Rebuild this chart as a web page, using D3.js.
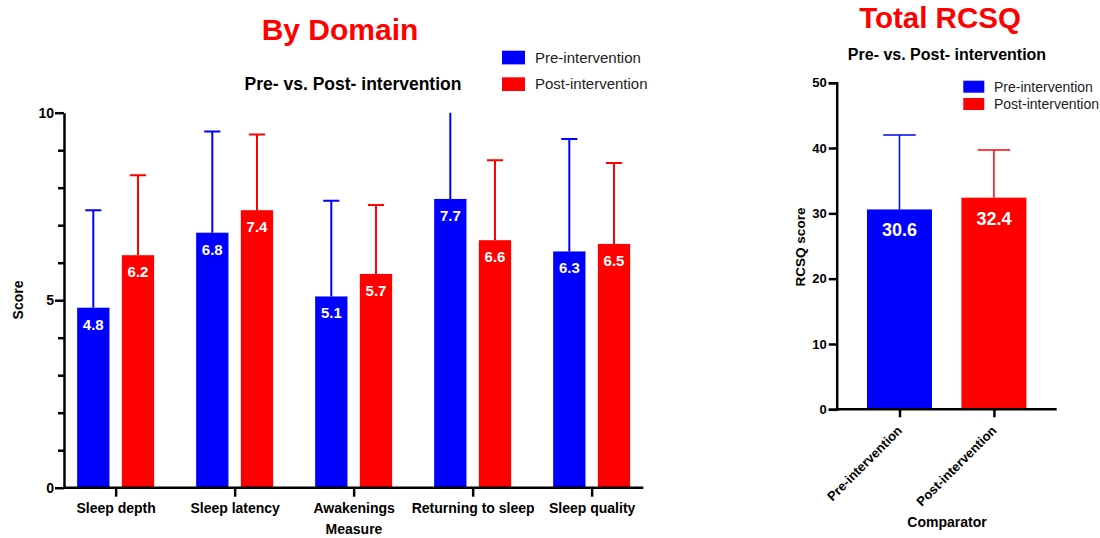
<!DOCTYPE html>
<html><head><meta charset="utf-8">
<script src="https://cdn.jsdelivr.net/npm/d3@7"></script>
<style>
body{margin:0;background:#fff}
text{font-family:"Liberation Sans",Arial,Helvetica,sans-serif}
</style></head><body><svg id="chart" width="1100" height="538"></svg>
<script>
// Sleep questionnaire scores, pre vs. post intervention (mean + SD)
const measures = ["Sleep depth", "Sleep latency", "Awakenings", "Returning to sleep", "Sleep quality"];
const groups = ["Pre-intervention", "Post-intervention"];
const preMeans = [4.8, 6.8, 5.1, 7.7, 6.3];
const preSD = [2.6, 2.7, 2.55, 2.8, 3.0];
const postMeans = [6.2, 7.4, 5.7, 6.6, 6.5];
const postSD = [2.13, 2.02, 1.84, 2.13, 2.16];
const totalMeans = [30.6, 32.4];
const totalSD = [11.4, 7.3];
const domainTickLabels = [0, 5, 10];
const totalTickLabels = [0, 10, 20, 30, 40, 50];
const colors = ["#0000ff", "#ff0000"];

const svg = d3.select("#chart");
const fmt = d3.format(".1f");
const color = d3.scaleOrdinal(groups, colors);

function styleAxis(g, w) {
  g.select(".domain").attr("stroke", "#000").attr("stroke-width", w);
  g.selectAll(".tick line").attr("stroke", "#000").attr("stroke-width", w);
  g.selectAll(".tick text").attr("fill", "#000").attr("font-weight", "bold")
    .attr("font-family", "'Liberation Sans', Arial, sans-serif");
}

// ---------- Left panel: by domain ----------
const L = {x0: 64, x1: 643.3, yTop: 112.7, yBot: 487.7};
const yL = d3.scaleLinear([0, 10], [L.yBot, L.yTop]);
const xL = d3.scalePoint(measures, [L.x0, L.x1]).padding(0.434);
const xsL = d3.scaleBand(groups, [-38.5, 38.5]).paddingInner(0.277);

svg.append("defs").append("clipPath").attr("id", "clipL")
  .append("rect").attr("x", L.x0).attr("y", L.yTop).attr("width", L.x1 - L.x0).attr("height", L.yBot - L.yTop);

const domainRows = [];
measures.forEach((m, i) => {
  domainRows.push({m, g: groups[0], v: preMeans[i], sd: preSD[i]});
  domainRows.push({m, g: groups[1], v: postMeans[i], sd: postSD[i]});
});

const gL = svg.append("g");
const bw = xsL.bandwidth();
gL.selectAll("rect.bar").data(domainRows).join("rect").attr("class", "bar")
  .attr("x", d => xL(d.m) + xsL(d.g))
  .attr("y", d => yL(d.v))
  .attr("width", bw)
  .attr("height", d => yL(0) - yL(d.v))
  .attr("fill", d => color(d.g));

// SD whiskers, clipped at the top of the axis
const errL = gL.append("g").attr("clip-path", "url(#clipL)");
domainRows.forEach(d => {
  const cx = xL(d.m) + xsL(d.g) + bw / 2;
  const top = yL(d.v + d.sd);
  errL.append("line").attr("x1", cx).attr("x2", cx).attr("y1", yL(d.v)).attr("y2", top)
    .attr("stroke", color(d.g)).attr("stroke-width", 2);
  errL.append("line").attr("x1", cx - bw / 4).attr("x2", cx + bw / 4).attr("y1", top).attr("y2", top)
    .attr("stroke", color(d.g)).attr("stroke-width", 2);
});

gL.selectAll("text.val").data(domainRows).join("text").attr("class", "val")
  .attr("x", d => xL(d.m) + xsL(d.g) + bw / 2)
  .attr("y", d => yL(d.v) + 22)
  .attr("text-anchor", "middle").attr("fill", "#fff")
  .attr("font-weight", "bold").attr("font-size", 15)
  .text(d => fmt(d.v));

// y axis with minor ticks every 1
const yAxisL = svg.append("g").attr("transform", `translate(${L.x0},0)`)
  .call(d3.axisLeft(yL).tickValues(d3.range(0, 11)).tickSizeOuter(0)
    .tickFormat(d => domainTickLabels.includes(d) ? d : ""));
styleAxis(yAxisL, 2.5);
yAxisL.selectAll(".tick line").attr("x2", d => domainTickLabels.includes(d) ? -9 : -6);
yAxisL.selectAll(".tick text").attr("x", -10).attr("font-size", 14);

const xAxisL = svg.append("g").attr("transform", `translate(0,${L.yBot})`)
  .call(d3.axisBottom(xL).tickSizeOuter(0).tickSize(9).tickPadding(6));
styleAxis(xAxisL, 2.5);
xAxisL.select(".domain").attr("d", `M${L.x0 - 1},0H${L.x1}`);
xAxisL.selectAll(".tick text").attr("font-size", 14);

svg.append("text").attr("x", 340).attr("y", 40).attr("text-anchor", "middle")
  .attr("fill", "#ff0000").attr("font-weight", "bold").attr("font-size", 30).text("By Domain");
svg.append("text").attr("x", 353).attr("y", 89.5).attr("text-anchor", "middle")
  .attr("fill", "#000").attr("font-weight", "bold").attr("font-size", 17.5).text("Pre- vs. Post- intervention");
svg.append("text").attr("transform", "translate(23,300) rotate(-90)").attr("text-anchor", "middle")
  .attr("font-weight", "bold").attr("font-size", 14).text("Score");
svg.append("text").attr("x", 354).attr("y", 534).attr("text-anchor", "middle")
  .attr("font-weight", "bold").attr("font-size", 14).text("Measure");

const legL = svg.append("g");
groups.forEach((g, i) => {
  legL.append("rect").attr("x", 502).attr("y", 50.7 + i * 26.6).attr("width", 23).attr("height", 13.7).attr("fill", color(g));
  legL.append("text").attr("x", 535).attr("y", 62.8 + i * 26.6).attr("font-size", 15).attr("fill", "#222").text(g);
});

// ---------- Right panel: total RCSQ ----------
const R = {x0: 836.7, x1: 1056.7, yTop: 82.7, yBot: 409.3};
const yR = d3.scaleLinear([0, 50], [R.yBot, R.yTop]);
const xR = d3.scalePoint(groups, [R.x0, R.x1]).padding(0.665);
const bwR = 65;
const totalRows = groups.map((g, i) => ({g, v: totalMeans[i], sd: totalSD[i]}));

const gR = svg.append("g");
gR.selectAll("rect").data(totalRows).join("rect")
  .attr("x", d => xR(d.g) - bwR / 2).attr("y", d => yR(d.v))
  .attr("width", bwR).attr("height", d => yR(0) - yR(d.v))
  .attr("fill", d => color(d.g));
totalRows.forEach(d => {
  const cx = xR(d.g), top = yR(d.v + d.sd);
  gR.append("line").attr("x1", cx).attr("x2", cx).attr("y1", yR(d.v)).attr("y2", top)
    .attr("stroke", color(d.g)).attr("stroke-width", 1.5);
  gR.append("line").attr("x1", cx - bwR / 4).attr("x2", cx + bwR / 4).attr("y1", top).attr("y2", top)
    .attr("stroke", color(d.g)).attr("stroke-width", 1.5);
});
gR.selectAll("text.val").data(totalRows).join("text").attr("class", "val")
  .attr("x", d => xR(d.g)).attr("y", d => yR(d.v) + 27)
  .attr("text-anchor", "middle").attr("fill", "#fff")
  .attr("font-weight", "bold").attr("font-size", 18)
  .text(d => fmt(d.v));

const yAxisR = svg.append("g").attr("transform", `translate(${R.x0},0)`)
  .call(d3.axisLeft(yR).tickValues(totalTickLabels).tickSizeOuter(0).tickSize(8).tickPadding(2));
styleAxis(yAxisR, 2.5);
yAxisR.selectAll(".tick text").attr("font-size", 13);

const xAxisR = svg.append("g").attr("transform", `translate(0,${R.yBot})`)
  .call(d3.axisBottom(xR).tickSizeOuter(0).tickSize(8));
styleAxis(xAxisR, 2.5);
xAxisR.select(".domain").attr("d", `M${R.x0 - 1},0H${R.x1}`);
xAxisR.selectAll(".tick text")
  .attr("font-size", 13).attr("text-anchor", "end")
  .attr("x", 0).attr("y", 0).attr("dy", 0)
  .attr("transform", "translate(3,22) rotate(-45)");

svg.append("text").attr("x", 940).attr("y", 27.5).attr("text-anchor", "middle")
  .attr("fill", "#ff0000").attr("font-weight", "bold").attr("font-size", 29.5).text("Total RCSQ");
svg.append("text").attr("x", 947).attr("y", 59.5).attr("text-anchor", "middle")
  .attr("fill", "#000").attr("font-weight", "bold").attr("font-size", 16).text("Pre- vs. Post- intervention");
svg.append("text").attr("transform", "translate(805,247) rotate(-90)").attr("text-anchor", "middle")
  .attr("font-weight", "bold").attr("font-size", 13.5).text("RCSQ score");
svg.append("text").attr("x", 947).attr("y", 526.5).attr("text-anchor", "middle")
  .attr("font-weight", "bold").attr("font-size", 14).text("Comparator");

const legR = svg.append("g");
groups.forEach((g, i) => {
  legR.append("rect").attr("x", 963.3).attr("y", 80.7 + i * 17.3).attr("width", 21).attr("height", 12).attr("fill", color(g));
  legR.append("text").attr("x", 994).attr("y", 91.5 + i * 17.3).attr("font-size", 14).attr("fill", "#222").text(g);
});
</script></body></html>
